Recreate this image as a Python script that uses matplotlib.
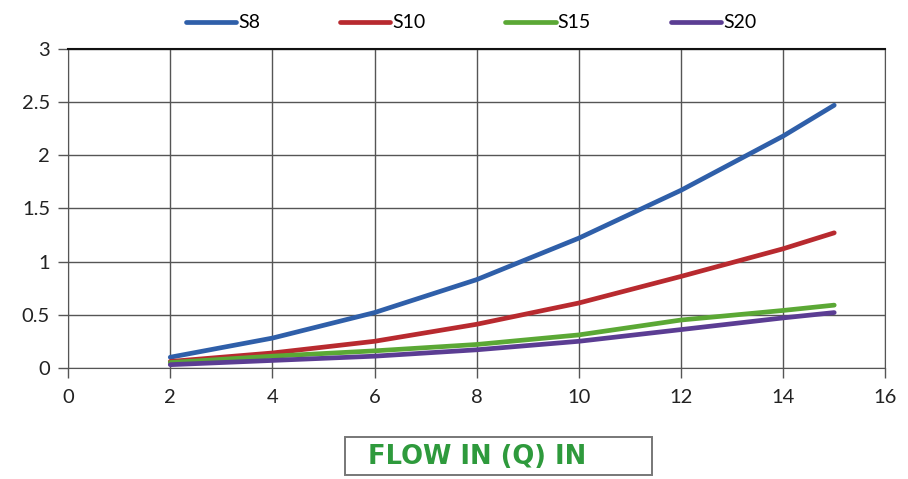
import matplotlib.pyplot as plt
from matplotlib.patches import Rectangle

plt.rcParams['font.family'] = ['Lato', 'DejaVu Sans']

# datos
flujo = [2, 4, 6, 8, 10, 12, 14, 15]
s8 = [0.10, 0.28, 0.52, 0.83, 1.22, 1.67, 2.18, 2.47]
s10 = [0.06, 0.14, 0.25, 0.41, 0.61, 0.86, 1.12, 1.27]
s15 = [0.05, 0.11, 0.16, 0.22, 0.31, 0.45, 0.54, 0.59]
s20 = [0.03, 0.07, 0.11, 0.17, 0.25, 0.36, 0.47, 0.52]

series = [("S8", s8, "#2f5fa9"), ("S10", s10, "#b82a2f"),
          ("S15", s15, "#5ba835"), ("S20", s20, "#5b3d93")]

fig = plt.figure(figsize=(9.08, 4.79), dpi=100)
ax = fig.add_axes([0.075, 0.232, 0.900, 0.666])

for nombre, valores, color in series:
    ax.plot(flujo, valores, color=color, lw=3.4, label=nombre,
            solid_capstyle='round')

ax.set_xlim(0, 16)
ax.set_ylim(0, 3)
ax.set_xticks(range(0, 17, 2))
ax.set_yticks([0, 0.5, 1, 1.5, 2, 2.5, 3])
ax.set_yticklabels(["0", "0.5", "1", "1.5", "2", "2.5", "3"])
ax.grid(True, color="#555555", lw=1.0)
ax.set_axisbelow(True)
for lado in ax.spines.values():
    lado.set_color("#555555")
ax.spines['top'].set_color("#111111")
ax.spines['top'].set_linewidth(1.5)
ax.tick_params(labelsize=14.5, colors="#222222", length=7, width=1, color="#555555")
ax.tick_params(axis='x', pad=8)
ax.tick_params(axis='y', pad=6)

ax.legend(loc='lower center', bbox_to_anchor=(0.493, 1.0), ncol=4, frameon=False,
          fontsize=14, handlelength=2.6, handletextpad=0.1, columnspacing=4.1)

# caja del titulo del eje x
fig.patches.append(Rectangle((0.380, 0.008), 0.338, 0.080, transform=fig.transFigure,
                             fc='white', ec='#777777', lw=1.4))
fig.text(0.526, 0.046, "FLOW IN (Q) IN", color="#2e9a3c", fontsize=18.5,
         fontweight='bold', ha='center', va='center', family='DejaVu Sans')

fig.savefig("out.png", dpi=100)
